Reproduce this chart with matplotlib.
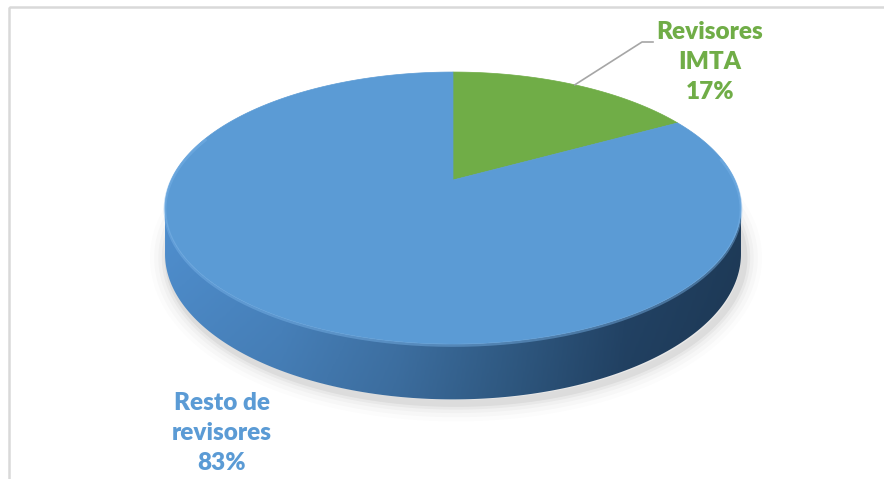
import numpy as np
import matplotlib.pyplot as plt
from matplotlib.patches import Polygon, Rectangle
from matplotlib.colors import LinearSegmentedColormap

# Data
labels = ["Revisores\nIMTA", "Resto de\nrevisores"]
values = [17, 83]
colors = ["#70ad47", "#5b9bd5"]

# Pie placement on the canvas (pixel coordinates) and tilt / perspective
CX, CY = 453, 180
A, B = 281.8, 130.2
K = 0.206        # perspective strength
H = 44           # thickness of the pie


def project(theta_deg, z=0.0, r=1.0):
    t = np.radians(theta_deg)
    u, v = r * np.cos(t), r * np.sin(t)
    d = 1 + K * v
    return CX + A * u / d, CY - B * v / d + z * H / d


fig = plt.figure(figsize=(8.84, 4.79), dpi=100)
ax = fig.add_axes([0, 0, 1, 1])

# chart border
ax.add_patch(Rectangle((8.5, 6.5), 900, 500, fill=False, ec="#d9d9d9", lw=1.8))

# soft shadow under the pie
ring = np.linspace(0, 360, 361)
bx, by = project(ring, z=1.0)
for lw, a in [(26, 0.012), (20, 0.018), (14, 0.025), (9, 0.035), (5, 0.05)]:
    ax.add_patch(Polygon(np.column_stack([bx + 3, by + 4]), closed=True,
                         fc="none", ec="black", lw=lw, alpha=a, joinstyle="round"))

# side wall of the pie: one outline filled with a left-to-right gradient
t0 = 180 + np.degrees(np.arcsin(K))
t1 = 360 - np.degrees(np.arcsin(K))
ts = np.linspace(t0, t1, 200)
tx, ty = project(ts)
ux, uy = project(ts[::-1], z=1.0)
side = Polygon(np.column_stack([np.r_[tx, ux], np.r_[ty, uy]]), closed=True,
               fc="none", ec="none")
ax.add_patch(side)

side_cmap = LinearSegmentedColormap.from_list(
    "side", ["#5090d0", "#4b88c5", "#4278ae", "#33608c", "#24466a", "#1f3c5a"])
gx = np.linspace(0, 1, 400)
gy = np.linspace(0, 1, 60)
grad = side_cmap(np.tile(gx, (len(gy), 1)))
shade = 1 - 0.10 * gy[:, None]
grad[..., :3] *= shade[..., None]
img = ax.imshow(grad, extent=[tx.min() - 2, tx.max() + 2, uy.max() + 2, ty.min() - 2],
                aspect="auto", interpolation="bilinear", zorder=1)
img.set_clip_path(side)

# top face wedges, clockwise from 12 o'clock
start = 90.0
for val, col in zip(values, colors):
    span = 360.0 * val / sum(values)
    th = np.linspace(start, start - span, max(int(span * 2), 4))
    px, py = project(th)
    pts = [(CX, CY)] + list(zip(px, py))
    ax.add_patch(Polygon(pts, closed=True, fc=col, ec=col, lw=0.5, zorder=2))
    start -= span

# light bevel along the front rim
th = np.linspace(160, 370, 200)
px, py = project(th)
ax.plot(px, py + 1.5, color="#79b3e8", lw=2.0, alpha=0.45,
        solid_capstyle="round", zorder=3)

# leader line for the small slice
mid = 90 - 360.0 * values[0] / sum(values) / 2
lx, ly = project(mid)
ax.plot([lx, 642, 653], [ly, 42, 42], color="#a6a6a6", lw=1.2, zorder=3)

# data labels
pct = [f"{v}%" for v in values]
font = dict(family=["Lato", "DejaVu Sans"], fontweight="heavy", fontsize=17.5,
            ha="center", va="center", linespacing=1.42, zorder=4)
ax.text(710, 62, f"{labels[0]}\n{pct[0]}", color=colors[0], **font)
ax.text(222, 433, f"{labels[1]}\n{pct[1]}", color=colors[1], **font)

ax.set_xlim(0, 884)
ax.set_ylim(479, 0)
ax.axis("off")

fig.savefig("out.png", dpi=100)
